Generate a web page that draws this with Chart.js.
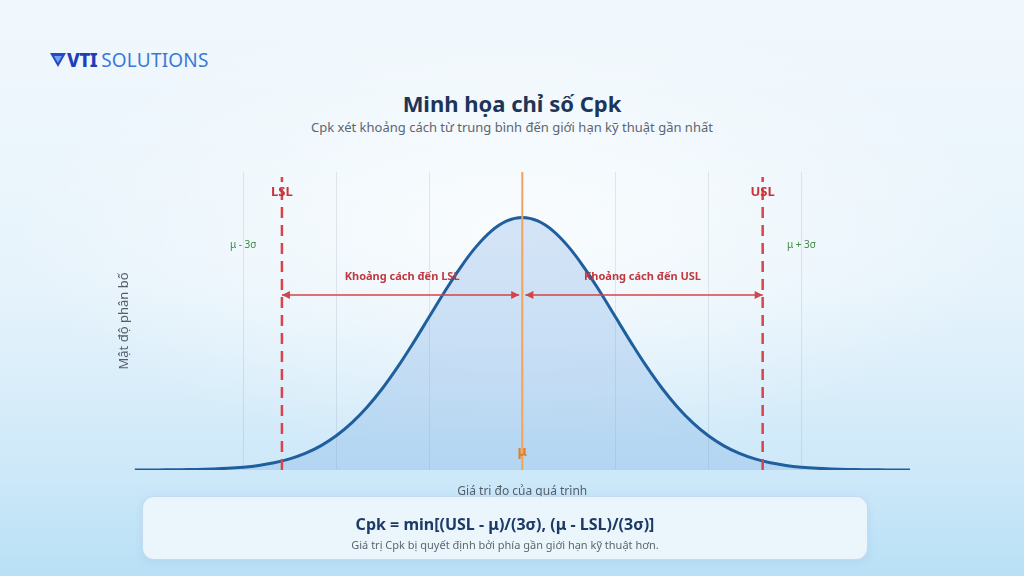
<!DOCTYPE html>
<html>
<head>
<meta charset="utf-8">
<script src="https://cdn.jsdelivr.net/npm/chart.js@4"></script>
<style>
  html, body { margin: 0; padding: 0; }
  body {
    width: 1024px; height: 576px; overflow: hidden; position: relative;
    font-family: "Noto Sans", sans-serif;
    background:
      radial-gradient(ellipse 70% 55% at 50% 40%, rgba(255,255,255,0.75), rgba(255,255,255,0) 70%),
      linear-gradient(180deg, #f1f8fd 0%, #e6f3fb 50%, #cfe9f9 80%, #b9e0f6 100%);
  }
  #logo { position: absolute; left: 50px; top: 47px; display: flex; align-items: center; }
  #logo .vti { font-weight: 800; font-size: 19px; color: #1f3fb8; letter-spacing: -0.5px; margin-left: 1px; }
  #logo .sol { font-size: 19px; color: #3b78d8; margin-left: 4px; letter-spacing: 0.2px; }
  #title { position: absolute; left: 0; width: 1024px; top: 88px; text-align: center;
    font-weight: 700; font-size: 22px; color: #1d3557; }
  #subtitle { position: absolute; left: 0; width: 1024px; top: 118px; text-align: center;
    font-size: 13px; color: #5b6672; }
  #wrap { position: absolute; left: 0; top: 0; width: 1024px; height: 576px; }
  #box { position: absolute; left: 142px; top: 496px; width: 724px; height: 62px;
    border-radius: 12px; background: rgba(240,247,253,0.88);
    border: 1px solid rgba(185,210,235,0.8); box-shadow: 0 2px 8px rgba(80,140,200,0.12);
    text-align: center; }
  #box .f { margin-top: 16px; font-weight: 700; font-size: 16px; color: #1d3a66; }
  #box .n { margin-top: 2px; font-size: 11px; color: #5b6672; }
</style>
</head>
<body>
<div id="logo">
  <svg width="16" height="16" viewBox="0 0 16 16">
    <polygon points="0,1 16,1 8,15" fill="#2348c8"/>
    <polygon points="4,4 12,4 8,11" fill="#6fa0f0"/>
  </svg>
  <span class="vti">VTI</span><span class="sol">SOLUTIONS</span>
</div>
<div id="title">Minh họa chỉ số Cpk</div>
<div id="subtitle">Cpk xét khoảng cách từ trung bình đến giới hạn kỹ thuật gần nhất</div>
<div id="wrap"><canvas id="chart" width="1024" height="576"></canvas></div>
<div id="box">
  <div class="f">Cpk = min[(USL - μ)/(3σ), (μ - LSL)/(3σ)]</div>
  <div class="n">Giá trị Cpk bị quyết định bởi phía gần giới hạn kỹ thuật hơn.</div>
</div>
<script>
// process values (x axis 0..100)
const MEAN = 50;
const SIGMA = 12;
const LSL = 19;
const USL = 81;
const Y_MAX = 1.18;

const xValues = [0,2,4,6,8,10,12,14,16,18,20,22,24,26,28,30,32,34,36,38,40,42,44,46,48,50,
  52,54,56,58,60,62,64,66,68,70,72,74,76,78,80,82,84,86,88,90,92,94,96,98,100];
// relative density (peak = 1)
const density = [0.0002,0.0003,0.0006,0.0012,0.0022,0.0039,0.0066,0.0111,0.0181,0.0286,0.0439,
  0.0657,0.0956,0.1353,0.1863,0.2494,0.3247,0.4111,0.5063,0.6065,0.7067,0.8007,0.8825,0.9460,0.9862,
  1.0000,
  0.9862,0.9460,0.8825,0.8007,0.7067,0.6065,0.5063,0.4111,0.3247,0.2494,0.1863,0.1353,0.0956,0.0657,
  0.0439,0.0286,0.0181,0.0111,0.0066,0.0039,0.0022,0.0012,0.0006,0.0003,0.0002];

const sigmaTicks = [14, 26, 38, 50, 62, 74, 86];
const arrowY = 0.693;

const curve = xValues.map((x, i) => ({ x: x, y: density[i] }));

const labelPlugin = {
  id: 'labels',
  afterDatasetsDraw(chart) {
    const ctx = chart.ctx;
    const xs = chart.scales.x, ys = chart.scales.y;
    ctx.save();
    // arrowheads
    const heads = [[LSL, -1], [MEAN - 0.4, 1], [MEAN + 0.4, -1], [USL, 1]];
    ctx.fillStyle = '#d2454b';
    heads.forEach(([v, dir]) => {
      const px = xs.getPixelForValue(v), py = ys.getPixelForValue(arrowY);
      ctx.beginPath();
      ctx.moveTo(px, py);
      ctx.lineTo(px - dir * 8, py - 4);
      ctx.lineTo(px - dir * 8, py + 4);
      ctx.closePath();
      ctx.fill();
    });
    ctx.textAlign = 'center';
    ctx.textBaseline = 'middle';
    // arrow labels
    ctx.font = 'bold 11px "Noto Sans"';
    ctx.fillStyle = '#c0393f';
    ctx.fillText('Khoảng cách đến LSL', xs.getPixelForValue((LSL + MEAN) / 2), ys.getPixelForValue(arrowY + 0.072));
    ctx.fillText('Khoảng cách đến USL', xs.getPixelForValue((USL + MEAN) / 2), ys.getPixelForValue(arrowY + 0.072));
    // spec labels
    ctx.font = 'bold 13px "Noto Sans"';
    ctx.fillStyle = '#c8323a';
    ctx.fillText('LSL', xs.getPixelForValue(LSL), ys.getPixelForValue(1.10));
    ctx.fillText('USL', xs.getPixelForValue(USL), ys.getPixelForValue(1.10));
    // sigma labels
    ctx.font = '10px "Noto Sans"';
    ctx.fillStyle = '#3d8b40';
    ctx.fillText('μ - 3σ', xs.getPixelForValue(MEAN - 3 * SIGMA), ys.getPixelForValue(0.89));
    ctx.fillText('μ + 3σ', xs.getPixelForValue(MEAN + 3 * SIGMA), ys.getPixelForValue(0.89));
    // mean label
    ctx.font = 'bold 14px "Noto Sans"';
    ctx.fillStyle = '#d9822b';
    ctx.fillText('μ', xs.getPixelForValue(MEAN), ys.getPixelForValue(0.07));
    ctx.restore();
  }
};

new Chart(document.getElementById('chart'), {
  type: 'line',
  data: {
    datasets: [
      { data: [{ x: MEAN, y: 0 }, { x: MEAN, y: Y_MAX }], borderColor: '#f0a25e', borderWidth: 2, pointRadius: 0, fill: false },
      { data: [{ x: LSL, y: 0 }, { x: LSL, y: 1.16 }], borderColor: '#d9434a', borderWidth: 2.5, borderDash: [11, 7], pointRadius: 0, fill: false },
      { data: [{ x: USL, y: 0 }, { x: USL, y: 1.16 }], borderColor: '#d9434a', borderWidth: 2.5, borderDash: [11, 7], pointRadius: 0, fill: false },
      { data: [{ x: LSL, y: arrowY }, { x: MEAN - 0.4, y: arrowY }], borderColor: '#d2454b', borderWidth: 1.5, pointRadius: 0, fill: false },
      { data: [{ x: MEAN + 0.4, y: arrowY }, { x: USL, y: arrowY }], borderColor: '#d2454b', borderWidth: 1.5, pointRadius: 0, fill: false },
      { data: curve, borderColor: '#1f5f9e', borderWidth: 3, pointRadius: 0, tension: 0.4,
        fill: 'origin', backgroundColor: 'rgba(110,165,225,0.28)' }
    ]
  },
  options: {
    responsive: false,
    animation: false,
    layout: { padding: { left: 112, right: 114, top: 172, bottom: 73.6 } },
    plugins: { legend: { display: false }, tooltip: { enabled: false } },
    scales: {
      x: {
        type: 'linear', min: 0, max: 100,
        afterBuildTicks: (scale) => { scale.ticks = sigmaTicks.map(v => ({ value: v })); },
        ticks: { display: false },
        grid: { color: 'rgba(120,140,160,0.18)', drawTicks: false },
        border: { display: false },
        title: { display: true, text: 'Giá trị đo của quá trình', color: '#555f6b',
          font: { family: 'Noto Sans', size: 12 }, padding: { top: 14, bottom: 4 } }
      },
      y: {
        min: 0, max: Y_MAX,
        ticks: { display: false },
        grid: { display: false, drawTicks: false },
        border: { display: false },
        title: { display: true, text: 'Mật độ phân bố', color: '#555f6b',
          font: { family: 'Noto Sans', size: 13 }, padding: { top: 4, bottom: 3 } }
      }
    }
  },
  plugins: [labelPlugin]
});
</script>
</body>
</html>
